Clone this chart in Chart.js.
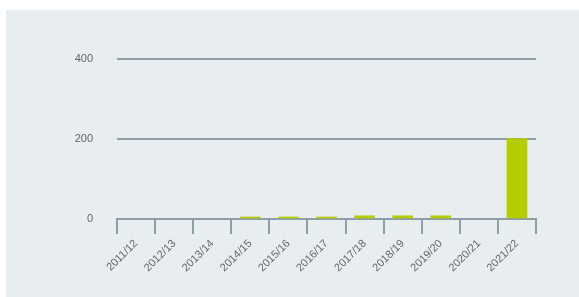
<!DOCTYPE html>
<html>
<head>
<meta charset="utf-8">
<script src="https://cdn.jsdelivr.net/npm/chart.js@4"></script>
<style>
  html, body { margin: 0; padding: 0; background: #ffffff; }
  #panel { position: absolute; left: 6px; top: 10px; width: 573px; height: 287px; background: #e8edf0; }
  #chart { display: block; }
</style>
</head>
<body>
<div id="panel"><canvas id="chart" width="573" height="287"></canvas></div>
<script>
let seasons = ['2011/12', '2012/13', '2013/14', '2014/15', '2015/16', '2016/17',
	'2017/18', '2018/19', '2019/20', '2020/21', '2021/22'];
let counts = [0, 0, 0, 5, 5, 5, 8, 8, 8, 0, 201];
let yTicks = [0, 200, 400];

const lineColor = '#8d9ea8';
const ctx = document.getElementById('chart').getContext('2d');

const chart = new Chart(ctx, {
	type: 'bar',
	data: {
		labels: seasons,
		datasets: [{
			data: counts,
			// zero bars otherwise leave a sub-pixel sliver on the axis
			backgroundColor: (c) => c.raw === 0 ? 'rgba(0,0,0,0)' : '#b5cc00',
			barThickness: 20
		}]
	},
	options: {
		responsive: false,
		animation: false,
		layout: { padding: { top: 49, right: 43, left: 0, bottom: 0 } },
		plugins: { legend: { display: false }, tooltip: { enabled: false } },
		scales: {
			x: {
				grid: {
					offset: true,
					drawOnChartArea: false,
					color: lineColor,
					lineWidth: 2,
					tickLength: 15
				},
				border: { color: lineColor, width: 2 },
				ticks: {
					maxRotation: 45,
					minRotation: 45,
					color: '#666666',
					font: { family: 'Liberation Sans', size: 11 },
					padding: 3
				},
				afterFit: (s) => { s.height = 78; }
			},
			y: {
				min: 0,
				max: 400,
				afterBuildTicks: (s) => { s.ticks = yTicks.map(v => ({ value: v })); },
				grid: {
					drawTicks: false,
					color: (c) => c.tick.value === 0 ? 'rgba(0,0,0,0)' : lineColor,
					lineWidth: 2
				},
				border: { display: false },
				ticks: {
					color: '#666666',
					font: { family: 'Liberation Sans', size: 11 },
					padding: 24
				},
				afterFit: (s) => { s.width = 111; }
			}
		}
	}
});
</script>
</body>
</html>
